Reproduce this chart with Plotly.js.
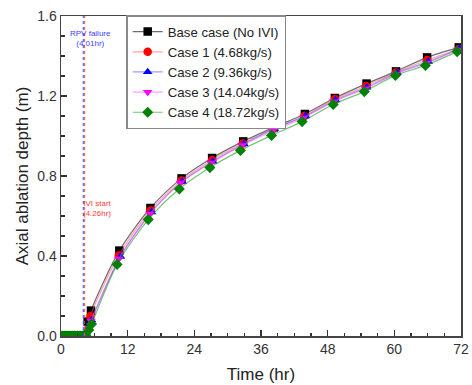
<!DOCTYPE html>
<html><head><meta charset="utf-8">
<script src="https://cdn.plot.ly/plotly-3.0.1.min.js"></script>
<style>html,body{margin:0;padding:0;background:#fff}</style>
</head><body><div id="c" style="width:472px;height:385px"></div>
<script>
// Zero-ablation phase (before vessel failure), shared by all cases
const tZero = [0, 0.3, 0.6, 0.9, 1.2, 1.5, 1.8, 2.1, 2.4, 2.7, 3.0, 3.3, 3.6, 3.9, 4.2, 4.5];
const dZero = [0, 0, 0, 0, 0, 0, 0, 0, 0, 0, 0, 0, 0, 0, 0, 0];

const seriesNames = ["Base case (No IVI)", "Case 1 (4.68kg/s)", "Case 2 (9.36kg/s)", "Case 3 (14.04kg/s)", "Case 4 (18.72kg/s)"];

const tBase = [4.8, 5.4, 10.5, 16.1, 21.7, 27.2, 32.8, 38.3, 43.9, 49.3, 55.0, 60.3, 65.9, 71.6];
const dBase = [0.072, 0.127, 0.427, 0.640, 0.788, 0.890, 0.973, 1.043, 1.110, 1.190, 1.262, 1.323, 1.393, 1.443];

const tCase1 = [4.8, 5.3, 10.4, 16.1, 21.7, 27.2, 32.7, 38.2, 43.8, 49.3, 54.9, 60.3, 65.9, 71.6];
const dCase1 = [0.030, 0.100, 0.403, 0.627, 0.778, 0.880, 0.963, 1.035, 1.100, 1.185, 1.250, 1.318, 1.380, 1.435];

const tCase2 = [5.0, 5.5, 10.7, 16.3, 21.8, 27.3, 32.9, 38.4, 44.0, 49.4, 55.0, 60.5, 66.1, 71.7];
const dCase2 = [0.040, 0.080, 0.397, 0.620, 0.772, 0.873, 0.960, 1.037, 1.100, 1.180, 1.243, 1.317, 1.372, 1.437];

const tCase3 = [5.0, 5.4, 10.4, 16.0, 21.5, 27.0, 32.6, 38.1, 43.6, 49.1, 54.8, 60.2, 65.8, 71.4];
const dCase3 = [0.040, 0.075, 0.385, 0.610, 0.765, 0.865, 0.953, 1.025, 1.090, 1.172, 1.237, 1.310, 1.365, 1.430];

const tCase4 = [5.0, 5.5, 10.1, 15.7, 21.3, 26.8, 32.3, 37.9, 43.4, 49.0, 54.6, 60.2, 65.6, 71.3];
const dCase4 = [0.030, 0.060, 0.358, 0.582, 0.735, 0.842, 0.928, 1.003, 1.072, 1.158, 1.222, 1.303, 1.353, 1.422];

const eventTimes = [4.01, 4.26];
const eventLabels = ["RPV failure<br>(4.01hr)", "IVI start<br>(4.26hr)"];

const xTicks = [0, 12, 24, 36, 48, 60, 72];
const yTicks = [0.0, 0.4, 0.8, 1.2, 1.6];

const styles = [
  {line: "rgba(60,60,60,0.75)", marker: "#000000", symbol: "square"},
  {line: "rgba(255,90,90,0.55)", marker: "#ff0000", symbol: "circle"},
  {line: "rgba(80,80,255,0.55)", marker: "#0000ff", symbol: "triangle-up"},
  {line: "rgba(255,80,255,0.55)", marker: "#ff00ff", symbol: "triangle-down"},
  {line: "rgba(0,150,0,0.55)", marker: "#008000", symbol: "diamond"}
];
const times = [tBase, tCase1, tCase2, tCase3, tCase4];
const depths = [dBase, dCase1, dCase2, dCase3, dCase4];

const traces = seriesNames.map((n, i) => ({
  type: "scatter", mode: "lines+markers", name: n,
  x: tZero.concat(times[i]), y: dZero.concat(depths[i]),
  line: {color: styles[i].line, width: 1.2, shape: "spline", smoothing: 0.8},
  marker: {color: styles[i].marker, symbol: styles[i].symbol, size: 8.5, line: {width: 0}},
  cliponaxis: true
}));

const font = "Arial, 'Liberation Sans', sans-serif";
const layout = {
  width: 472, height: 385,
  margin: {l: 61, r: 11, t: 16, b: 49},
  paper_bgcolor: "#fff", plot_bgcolor: "#fff",
  font: {family: font, color: "#222"},
  showlegend: true,
  legend: {x: 0.163, y: 1.003, xanchor: "left", yanchor: "top",
    bgcolor: "#fff", bordercolor: "#888", borderwidth: 1.5,
    font: {size: 13.2, family: font, color: "#222"}, tracegroupgap: 0, itemwidth: 30},
  xaxis: {range: [0, 72], tickvals: xTicks, ticktext: xTicks.map(String),
    ticks: "inside", ticklen: 6, tickwidth: 1.5, tickcolor: "#333",
    minor: {dtick: 3, ticks: "inside", ticklen: 3.5, tickwidth: 1.2, tickcolor: "#333"},
    showline: true, linecolor: "#444", linewidth: 1.5, mirror: true,
    showgrid: false, zeroline: false,
    tickfont: {size: 14, color: "#333"},
    title: {text: "Time (hr)", font: {size: 17, color: "#222"}, standoff: 12}},
  yaxis: {range: [0, 1.6], tickvals: yTicks, ticktext: yTicks.map(v => v.toFixed(1)),
    ticks: "inside", ticklen: 6, tickwidth: 1.5, tickcolor: "#333",
    minor: {dtick: 0.1, ticks: "inside", ticklen: 3.5, tickwidth: 1.2, tickcolor: "#333"},
    showline: true, linecolor: "#444", linewidth: 1.5, mirror: true,
    showgrid: false, zeroline: false,
    tickfont: {size: 14, color: "#333"},
    title: {text: "Axial ablation depth (m)", font: {size: 17, color: "#222"}, standoff: 4}},
  shapes: [
    {type: "line", xref: "x", yref: "paper", x0: eventTimes[0], x1: eventTimes[0], y0: 0, y1: 1,
     line: {color: "#4040ff", width: 1, dash: "dot"}},
    {type: "line", xref: "x", yref: "paper", x0: eventTimes[1], x1: eventTimes[1], y0: 0, y1: 1,
     line: {color: "#ff5050", width: 1, dash: "dot"}}
  ],
  annotations: [
    {x: eventTimes[0], y: 1.49, xref: "x", yref: "y", text: eventLabels[0], showarrow: false,
     xanchor: "center", font: {size: 8, color: "#4040ff", family: font}, xshift: 7},
    {x: eventTimes[1], y: 0.64, xref: "x", yref: "y", text: eventLabels[1], showarrow: false,
     xanchor: "left", font: {size: 8, color: "#ff4040", family: font}, xshift: -4}
  ]
};
Plotly.newPlot("c", traces, layout, {staticPlot: true, displayModeBar: false});
</script></body></html>
